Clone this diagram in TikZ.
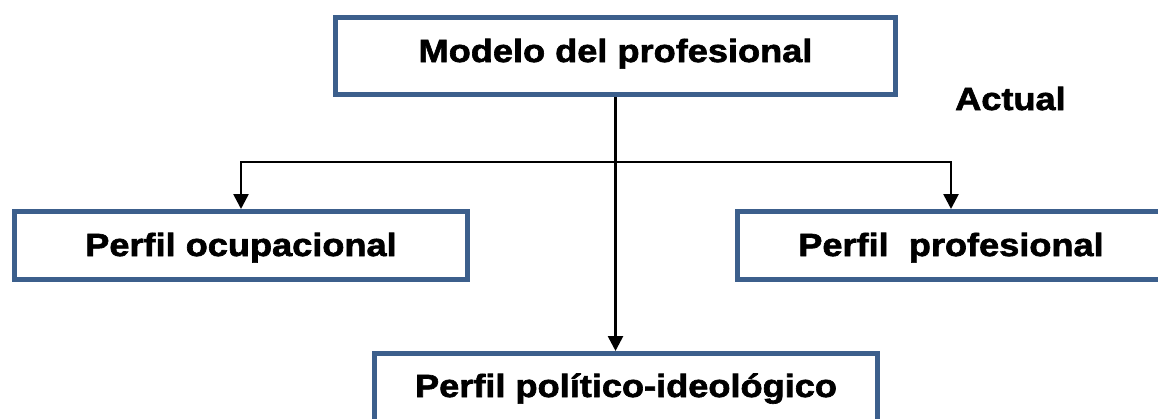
\documentclass[tikz,border=0pt]{standalone}
\usepackage{fontspec}
\newfontfamily\boxfont{Liberation Sans Bold}[FakeStretch=1.13,FakeBold=2]
\usetikzlibrary{arrows.meta}
\definecolor{boxblue}{RGB}{60,95,140}
\tikzset{
  pbox/.style={draw=boxblue, line width=5pt, fill=white, inner sep=0pt,
    font=\boxfont\fontsize{32}{38}\selectfont, text=black},
  conn/.style={line width=2.6pt, draw=black},
  arr/.style={conn, -{Triangle[width=15pt,length=15pt]}},
  lbl/.style={font=\boxfont\fontsize{32}{38}\selectfont, inner sep=0pt}
}
\begin{document}
\begin{tikzpicture}[x=1pt,y=-1pt]
\path[use as bounding box, clip] (0,0) rectangle (1158,418);
\node[pbox, minimum width=560pt, minimum height=77pt, text height=28pt, text depth=16pt] (top) at (615.5,56) {Modelo del profesional};
\node[pbox, minimum width=453pt, minimum height=68pt, text height=32.5pt, text depth=11.5pt] (left) at (241,245.5) {Perfil ocupacional};
\node[pbox, minimum width=427pt, minimum height=68pt, text height=32.5pt, text depth=11.5pt] (right) at (951,245.5) {Perfil\ \ profesional};
\node[pbox, minimum width=503pt, minimum height=77pt, text height=27pt, text depth=17pt] (bot) at (626,392) {Perfil político-ideológico};
\node[lbl, anchor=base west] (actual) at (955,110) {Actual};
\coordinate (j) at (top.south |- 0,162);
\draw[arr] (top.south) -- (top.south |- bot.north);
\draw[arr] (j) -| (left.north);
\draw[arr] (j) -| (right.north);
\end{tikzpicture}
\end{document}
